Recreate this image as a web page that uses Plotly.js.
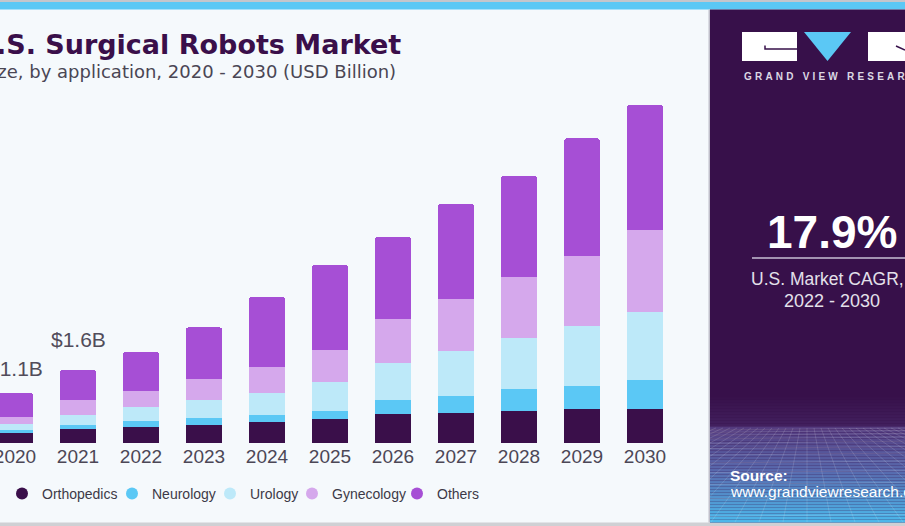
<!DOCTYPE html>
<html>
<head>
<meta charset="utf-8">
<script src="https://cdn.plot.ly/plotly-3.0.1.min.js"></script>
<style>
html,body{margin:0;padding:0;background:#f5f9fc;overflow:hidden}
#chart{width:905px;height:526px}
</style>
</head>
<body>
<div id="chart"></div>
<script>
// ---- data (USD Billion) ----
const years = ['2020','2021','2022','2023','2024','2025','2026','2027','2028','2029','2030'];
const orthopedics = [0.23, 0.31, 0.35, 0.39, 0.47, 0.52, 0.63, 0.66, 0.71, 0.75, 0.75];
const neurology   = [0.05, 0.08, 0.13, 0.16, 0.15, 0.19, 0.31, 0.38, 0.47, 0.50, 0.63];
const urology     = [0.14, 0.23, 0.31, 0.39, 0.47, 0.62, 0.82, 0.98, 1.12, 1.32, 1.50];
const gynecology  = [0.16, 0.32, 0.35, 0.47, 0.58, 0.70, 0.97, 1.13, 1.33, 1.54, 1.79];
const others      = [0.52, 0.66, 0.86, 1.13, 1.53, 1.87, 1.79, 2.09, 2.23, 2.57, 2.74];
const seriesNames = ['Orthopedics','Neurology','Urology','Gynecology','Others'];
const labelYears  = ['2020','2021'];
const cagrText    = '17.9%';

// ---- styles ----
const colors = ['#3a0f4a','#5bc8f5','#bde9f9','#d5a8ec','#a64fd5'];
const SANS = '"Liberation Sans", Arial, sans-serif';
const DEJA = '"DejaVu Sans", sans-serif';
const W = 905, H = 526, ML = 0, MR = 205, MT = 100, MB = 83;
const PW = W - ML - MR, PH = H - MT - MB;
const X = px => (px - ML) / PW;
const Y = py => (H - MB - py) / PH;

const series = [orthopedics, neurology, urology, gynecology, others];
const totals = years.map((_, i) => series.reduce((s, a) => s + a[i], 0));

const legendTextStart = [38, 148, 246, 328, 433];
const legendIds = ['legend', 'legend2', 'legend3', 'legend4', 'legend5'];

const traces = series.map((vals, k) => ({
  type: 'bar', x: years, y: vals, name: seriesNames[k],
  marker: {color: colors[k], line: {width: 0}},
  showlegend: false, hoverinfo: 'skip'
}));
seriesNames.forEach((n, k) => traces.push({
  type: 'scatter', mode: 'markers', x: [null], y: [null], name: n, legend: legendIds[k],
  marker: {color: colors[k], size: 12, symbol: 'circle'}, showlegend: true, hoverinfo: 'skip'
}));

// ---- decorative shapes ----
const shapes = [
  {type:'rect', xref:'paper', yref:'paper', x0:X(0), x1:X(W), y0:Y(0), y1:Y(2), fillcolor:'#c4c6cc', line:{width:0}},
  {type:'rect', xref:'paper', yref:'paper', x0:X(0), x1:X(W), y0:Y(2), y1:Y(9.5), fillcolor:'#5bc8f5', line:{width:0}},
  {type:'rect', xref:'paper', yref:'paper', x0:X(0), x1:X(W), y0:Y(522.5), y1:Y(H), fillcolor:'#cfd0d4', line:{width:0}},
  {type:'rect', xref:'paper', yref:'paper', x0:X(708.5), x1:X(710), y0:Y(9.5), y1:Y(522.5), fillcolor:'#c0bfca', line:{width:0}},
  {type:'rect', xref:'paper', yref:'paper', x0:X(710), x1:X(W), y0:Y(9.5), y1:Y(522.5), fillcolor:'#37104a', line:{width:0}}
];
// panel bottom gradient (purple -> blue), drawn as thin strips
const stops = [[395, [55,16,74]], [426, [66,32,94]], [427, [84,58,126]], [470, [88,104,172]], [522.5, [76,185,236]]];
function colAt(py) {
  for (let i = 0; i < stops.length - 1; i++) {
    const [a, ca] = stops[i], [b, cb] = stops[i + 1];
    if (py <= b) {
      const t = (py - a) / (b - a);
      return 'rgb(' + ca.map((c, j) => Math.round(c + (cb[j] - c) * t)).join(',') + ')';
    }
  }
  return 'rgb(76,185,236)';
}
for (let py = 395; py < 522.5; py += 1.5) {
  shapes.push({type:'rect', xref:'paper', yref:'paper', x0:X(710), x1:X(W), y0:Y(py), y1:Y(Math.min(py + 1.6, 522.5)),
               fillcolor: colAt(py + 0.75), line:{width:0}});
}
// mesh lines
const meshTop = 428, meshBot = 522;
let hy = meshTop, hstep = 2.4;
while (hy < meshBot) {
  shapes.push({type:'line', xref:'paper', yref:'paper', x0:X(710), x1:X(W), y0:Y(hy + 2), y1:Y(hy),
               line:{color:'rgba(255,255,255,0.18)', width:0.8}});
  hy += hstep; hstep *= 1.22;
}
for (let i = -14; i <= 28; i++) {
  let xt = 807 + i * 7, xb = 807 + i * 24, yt = meshTop, yb = meshBot;
  const clip = (xa, ya, xc, yc, bound) => ya + (yc - ya) * (bound - xa) / (xc - xa);
  if ((xt < 710 && xb < 710) || (xt > W && xb > W)) continue;
  if (xb < 710) { yb = clip(xt, yt, xb, yb, 710); xb = 710; }
  if (xb > W) { yb = clip(xt, yt, xb, yb, W); xb = W; }
  if (xt < 710 || xt > W) continue;
  shapes.push({type:'line', xref:'paper', yref:'paper', x0:X(xt), x1:X(xb), y0:Y(yt), y1:Y(yb),
               line:{color:'rgba(255,255,255,0.18)', width:0.8}});
}
// logo + divider
shapes.push(
  {type:'rect', xref:'paper', yref:'paper', x0:X(742), x1:X(797), y0:Y(32), y1:Y(61), fillcolor:'#ffffff', line:{width:0}},
  {type:'path', xref:'paper', yref:'paper', path:`M ${X(765)} ${Y(45.5)} L ${X(765)} ${Y(49)} L ${X(797)} ${Y(49)}`, line:{color:'#37104a', width:1.5}},
  {type:'path', xref:'paper', yref:'paper', path:`M ${X(804)} ${Y(32)} L ${X(851)} ${Y(32)} L ${X(827.5)} ${Y(61)} Z`, fillcolor:'#5bc8f5', line:{width:0}},
  {type:'rect', xref:'paper', yref:'paper', x0:X(868), x1:X(W), y0:Y(32), y1:Y(61), fillcolor:'#ffffff', line:{width:0}},
  {type:'path', xref:'paper', yref:'paper', path:`M ${X(896)} ${Y(46)} L ${X(905)} ${Y(50)}`, line:{color:'#37104a', width:1.5}},
  {type:'line', xref:'paper', yref:'paper', x0:X(752), x1:X(W), y0:Y(258), y1:Y(258), line:{color:'#c9bfd6', width:1.5}}
);

const annFont = (size, color, family, weight) => ({size, color, family, weight: weight || 'normal'});
const annotations = [
  {xref:'paper', yref:'paper', x:X(403), y:Y(44), xanchor:'right', yanchor:'middle', showarrow:false,
   text:'U.S. Surgical Robots Market', font:annFont(27, '#3a0f4a', DEJA, 'bold')},
  {xref:'paper', yref:'paper', x:X(398), y:Y(72), xanchor:'right', yanchor:'middle', showarrow:false,
   text:'U.S. surgical robots market size, by application, 2020 - 2030 (USD Billion)', font:annFont(18, '#4a4654', DEJA)},
  {xref:'paper', yref:'paper', x:X(742), y:Y(77), xanchor:'left', yanchor:'middle', showarrow:false,
   text:'GRAND VIEW RESEARCH', font:annFont(10, '#dcd8e4', SANS, 'bold')},
  {xref:'paper', yref:'paper', x:X(832), y:Y(232), xanchor:'center', yanchor:'middle', showarrow:false,
   text:cagrText, font:annFont(46, '#ffffff', SANS, 'bold')},
  {xref:'paper', yref:'paper', x:X(749), y:Y(279), xanchor:'left', yanchor:'middle', showarrow:false,
   text:'U.S. Market CAGR,', font:annFont(17.5, '#e4e0ea', SANS)},
  {xref:'paper', yref:'paper', x:X(832), y:Y(301), xanchor:'center', yanchor:'middle', showarrow:false,
   text:'2022 - 2030', font:annFont(18, '#e4e0ea', SANS)},
  {xref:'paper', yref:'paper', x:X(728), y:Y(475), xanchor:'left', yanchor:'middle', showarrow:false,
   text:'Source:', font:annFont(15.5, '#ffffff', SANS, 'bold')},
  {xref:'paper', yref:'paper', x:X(728), y:Y(491), xanchor:'left', yanchor:'middle', showarrow:false,
   text:'www.grandviewresearch.com', font:annFont(15.5, '#ffffff', SANS)}
];
const labelShift = [11, 17];
labelYears.forEach((yr, j) => {
  const i = years.indexOf(yr);
  annotations.push({x: i, y: totals[i], xref:'x', yref:'y', xanchor:'center', yanchor:'bottom', yshift: labelShift[j],
    showarrow:false, text:'$' + totals[i].toFixed(1) + 'B', font:annFont(21, '#514c5a', SANS)});
});

const layout = {
  width: W, height: H,
  margin: {l: ML, r: MR, t: MT, b: MB, pad: 0},
  paper_bgcolor: '#f5f9fc', plot_bgcolor: '#f5f9fc',
  barmode: 'stack', bargap: 0.43, barcornerradius: 3,
  xaxis: {type:'category', range:[-15/63, (PW - 15)/63], showgrid:false, zeroline:false, showline:false,
          ticks:'', tickfont:{size:19, color:'#4c4756', family:SANS}, fixedrange:true},
  yaxis: {range:[0, PH/45.6], showgrid:false, zeroline:false, showline:false, showticklabels:false, fixedrange:true},
  showlegend: true,
  shapes, annotations,
  hovermode: false
};
legendIds.forEach((id, k) => {
  layout[id] = {orientation:'h', x:X(legendTextStart[k] - 36), xanchor:'left', y:Y(494), yanchor:'middle',
                font:{size:14, color:'#3d3947', family:SANS}, bgcolor:'rgba(0,0,0,0)'};
});

Plotly.newPlot('chart', traces, layout, {displayModeBar:false, staticPlot:true}).then(() => {
  const t = document.querySelector('g.annotation[data-index="2"] text');
  if (t) {
    const b0 = t.getBBox();
    t.style.letterSpacing = '3.2px';
    const b1 = t.getBBox();
    const x0 = parseFloat(t.getAttribute('x')) || 0;
    t.setAttribute('x', x0 + (b0.x - b1.x));
  }
});
</script>
</body>
</html>
